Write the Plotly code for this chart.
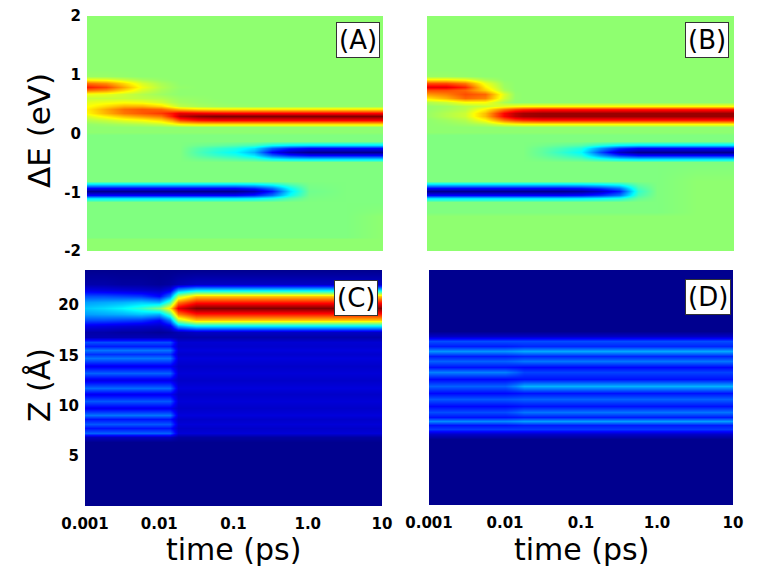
import plotly.graph_objects as go

# time nodes (ps) shared by all four maps
TIME_PS = [0.001, 0.00178, 0.00316, 0.00562, 0.01, 0.0141, 0.0178, 0.0316,
           0.0562, 0.1, 0.178, 0.316, 0.562, 1.0, 3.16, 10.0]

# energy rows (eV) for panels A and B, bottom to top
ENERGY_EV = [-2.0, -1.8, -1.76, -1.4, -1.34, -1.16, -1.10, -1.04, -0.98, -0.92,
             -0.86, -0.80, -0.49, -0.43, -0.37, -0.31, -0.25, -0.19, -0.13, -0.02,
             0.02, 0.11, 0.17, 0.23, 0.29, 0.35, 0.41, 0.47, 0.53, 0.60,
             0.68, 0.74, 0.80, 0.86, 0.92, 0.98, 1.10, 2.0]

PANEL_A = [
    [0.03, 0.03, 0.03, 0.03, 0.03, 0.03, 0.03, 0.03, 0.03, 0.03, 0.03, 0.03, 0.03, 0.03, 0.03, 0.03],
    [0.03, 0.03, 0.03, 0.03, 0.03, 0.03, 0.03, 0.03, 0.03, 0.03, 0.03, 0.03, 0.03, 0.03, 0.03, 0.03],
    [0, 0, 0, 0, 0, 0, 0, 0, 0, 0, 0, 0, 0, 0, 0, 0.03],
    [0, 0, 0, 0, 0, 0, 0, 0, 0, 0, 0, 0, 0, 0, 0, 0.03],
    [0, 0, 0, 0, 0, 0, 0, 0, 0, 0, 0, 0, 0, 0, 0, 0.015],
    [0, 0, 0, 0, 0, 0, 0, 0, 0, 0, 0, 0, 0, 0, 0, 0],
    [-0.3, -0.3, -0.3, -0.3, -0.3, -0.3, -0.3, -0.3, -0.3, -0.3, -0.28, -0.21, -0.09, -0.01, 0, 0],
    [-0.75, -0.75, -0.75, -0.75, -0.75, -0.75, -0.75, -0.75, -0.75, -0.75, -0.69, -0.53, -0.23, -0.02, 0, 0],
    [-1, -1, -1, -1, -1, -1, -1, -1, -1, -1, -0.92, -0.7, -0.3, -0.03, 0, 0],
    [-0.75, -0.75, -0.75, -0.75, -0.75, -0.75, -0.75, -0.75, -0.75, -0.75, -0.69, -0.53, -0.23, -0.02, 0, 0],
    [-0.3, -0.3, -0.3, -0.3, -0.3, -0.3, -0.3, -0.3, -0.3, -0.3, -0.28, -0.21, -0.09, -0.01, 0, 0],
    [0, 0, 0, 0, 0, 0, 0, 0, 0, 0, 0, 0, 0, 0, 0, 0],
    [0, 0, 0, 0, 0, 0, 0, 0, 0, 0, 0, 0, 0, 0, 0, 0],
    [0, 0, 0, 0, 0, 0, 0, -0.03, -0.05, -0.08, -0.12, -0.23, -0.28, -0.3, -0.3, -0.3],
    [0, 0, 0, 0, 0, 0, 0, -0.08, -0.14, -0.19, -0.3, -0.56, -0.69, -0.75, -0.75, -0.75],
    [0, 0, 0, 0, 0, 0, 0, -0.1, -0.18, -0.25, -0.4, -0.75, -0.92, -1, -1, -1],
    [0, 0, 0, 0, 0, 0, 0, -0.08, -0.14, -0.19, -0.3, -0.56, -0.69, -0.75, -0.75, -0.75],
    [0, 0, 0, 0, 0, 0, 0, -0.03, -0.05, -0.08, -0.12, -0.23, -0.28, -0.3, -0.3, -0.3],
    [0, 0, 0, 0, 0, 0, 0, 0, 0, 0, 0, 0, 0, 0, 0, 0],
    [0, 0, 0, 0, 0, 0, 0, 0, 0, 0, 0, 0, 0, 0, 0, 0],
    [0.03, 0.03, 0.03, 0.03, 0.03, 0.03, 0.03, 0.03, 0.03, 0.03, 0.03, 0.03, 0.03, 0.03, 0.03, 0.03],
    [0.03, 0.03, 0.03, 0.03, 0.03, 0.03, 0.03, 0.03, 0.03, 0.03, 0.03, 0.03, 0.03, 0.03, 0.03, 0.03],
    [0.04, 0.06, 0.08, 0.1, 0.14, 0.2, 0.26, 0.3, 0.3, 0.3, 0.3, 0.3, 0.3, 0.3, 0.3, 0.3],
    [0.1, 0.14, 0.2, 0.24, 0.32, 0.45, 0.62, 0.72, 0.75, 0.75, 0.75, 0.75, 0.75, 0.75, 0.75, 0.75],
    [0.18, 0.28, 0.38, 0.45, 0.52, 0.7, 0.88, 0.97, 1, 1, 1, 1, 1, 1, 1, 1],
    [0.26, 0.4, 0.52, 0.58, 0.64, 0.72, 0.8, 0.78, 0.76, 0.75, 0.75, 0.75, 0.75, 0.75, 0.75, 0.75],
    [0.28, 0.42, 0.54, 0.58, 0.55, 0.45, 0.38, 0.32, 0.3, 0.3, 0.3, 0.3, 0.3, 0.3, 0.3, 0.3],
    [0.24, 0.32, 0.4, 0.4, 0.32, 0.2, 0.12, 0.08, 0.06, 0.05, 0.04, 0.04, 0.04, 0.04, 0.04, 0.04],
    [0.2, 0.22, 0.24, 0.22, 0.16, 0.1, 0.07, 0.05, 0.04, 0.03, 0.03, 0.03, 0.03, 0.03, 0.03, 0.03],
    [0.14, 0.14, 0.14, 0.12, 0.1, 0.07, 0.05, 0.04, 0.03, 0.03, 0.03, 0.03, 0.03, 0.03, 0.03, 0.03],
    [0.22, 0.2, 0.15, 0.1, 0.06, 0.04, 0.03, 0.03, 0.03, 0.03, 0.03, 0.03, 0.03, 0.03, 0.03, 0.03],
    [0.53, 0.47, 0.32, 0.17, 0.08, 0.05, 0.03, 0.03, 0.03, 0.03, 0.03, 0.03, 0.03, 0.03, 0.03, 0.03],
    [0.7, 0.62, 0.42, 0.22, 0.1, 0.06, 0.04, 0.03, 0.03, 0.03, 0.03, 0.03, 0.03, 0.03, 0.03, 0.03],
    [0.53, 0.47, 0.32, 0.17, 0.08, 0.05, 0.03, 0.03, 0.03, 0.03, 0.03, 0.03, 0.03, 0.03, 0.03, 0.03],
    [0.21, 0.19, 0.13, 0.07, 0.04, 0.03, 0.03, 0.03, 0.03, 0.03, 0.03, 0.03, 0.03, 0.03, 0.03, 0.03],
    [0.05, 0.05, 0.04, 0.03, 0.03, 0.03, 0.03, 0.03, 0.03, 0.03, 0.03, 0.03, 0.03, 0.03, 0.03, 0.03],
    [0.03, 0.03, 0.03, 0.03, 0.03, 0.03, 0.03, 0.03, 0.03, 0.03, 0.03, 0.03, 0.03, 0.03, 0.03, 0.03],
    [0.03, 0.03, 0.03, 0.03, 0.03, 0.03, 0.03, 0.03, 0.03, 0.03, 0.03, 0.03, 0.03, 0.03, 0.03, 0.03],
]

PANEL_B = [
    [0.03, 0.03, 0.03, 0.03, 0.03, 0.03, 0.03, 0.03, 0.03, 0.03, 0.03, 0.03, 0.03, 0.03, 0.03, 0.03],
    [0.03, 0.03, 0.03, 0.03, 0.03, 0.03, 0.03, 0.03, 0.03, 0.03, 0.03, 0.03, 0.03, 0.03, 0.03, 0.03],
    [0.03, 0.03, 0.03, 0.03, 0.03, 0.03, 0.03, 0.03, 0.03, 0.03, 0.03, 0.03, 0.03, 0.03, 0.03, 0.03],
    [0.03, 0.03, 0.03, 0.03, 0.03, 0.03, 0.03, 0.03, 0.03, 0.03, 0.03, 0.03, 0.03, 0.03, 0.03, 0.03],
    [0, 0, 0, 0, 0, 0, 0, 0, 0, 0, 0, 0, 0, 0, 0.03, 0.03],
    [0, 0, 0, 0, 0, 0, 0, 0, 0, 0, 0, 0, 0, 0, 0.03, 0.03],
    [-0.3, -0.3, -0.3, -0.3, -0.3, -0.3, -0.3, -0.3, -0.3, -0.29, -0.26, -0.21, -0.05, 0, 0.03, 0.03],
    [-0.75, -0.75, -0.75, -0.75, -0.75, -0.75, -0.75, -0.75, -0.75, -0.73, -0.66, -0.53, -0.11, 0, 0.03, 0.03],
    [-1, -1, -1, -1, -1, -1, -1, -1, -1, -0.97, -0.88, -0.7, -0.15, 0, 0.03, 0.03],
    [-0.75, -0.75, -0.75, -0.75, -0.75, -0.75, -0.75, -0.75, -0.75, -0.73, -0.66, -0.53, -0.11, 0, 0.03, 0.03],
    [-0.3, -0.3, -0.3, -0.3, -0.3, -0.3, -0.3, -0.3, -0.3, -0.29, -0.26, -0.21, -0.05, 0, 0.03, 0.03],
    [0, 0, 0, 0, 0, 0, 0, 0, 0, 0, 0, 0, 0, 0, 0.03, 0.03],
    [0, 0, 0, 0, 0, 0, 0, 0, 0, 0, 0, 0, 0, 0, 0, 0],
    [0, 0, 0, 0, 0, 0, 0, -0.02, -0.05, -0.08, -0.18, -0.26, -0.3, -0.3, -0.3, -0.3],
    [0, 0, 0, 0, 0, 0, 0, -0.05, -0.11, -0.19, -0.45, -0.66, -0.75, -0.75, -0.75, -0.75],
    [0, 0, 0, 0, 0, 0, 0, -0.06, -0.15, -0.25, -0.6, -0.88, -1, -1, -1, -1],
    [0, 0, 0, 0, 0, 0, 0, -0.05, -0.11, -0.19, -0.45, -0.66, -0.75, -0.75, -0.75, -0.75],
    [0, 0, 0, 0, 0, 0, 0, -0.02, -0.05, -0.08, -0.18, -0.26, -0.3, -0.3, -0.3, -0.3],
    [0, 0, 0, 0, 0, 0, 0, 0, 0, 0, 0, 0, 0, 0, 0, 0],
    [0, 0, 0, 0, 0, 0, 0, 0, 0, 0, 0, 0, 0, 0, 0, 0],
    [0.03, 0.03, 0.03, 0.03, 0.03, 0.03, 0.03, 0.03, 0.03, 0.03, 0.03, 0.03, 0.03, 0.03, 0.03, 0.03],
    [0.03, 0.03, 0.03, 0.03, 0.03, 0.03, 0.03, 0.03, 0.03, 0.03, 0.03, 0.03, 0.03, 0.03, 0.03, 0.03],
    [0.03, 0.04, 0.06, 0.1, 0.2, 0.23, 0.25, 0.25, 0.25, 0.25, 0.25, 0.25, 0.25, 0.25, 0.25, 0.25],
    [0.03, 0.06, 0.1, 0.25, 0.52, 0.62, 0.66, 0.7, 0.7, 0.7, 0.7, 0.7, 0.7, 0.7, 0.7, 0.7],
    [0.05, 0.1, 0.15, 0.38, 0.75, 0.88, 0.93, 0.95, 0.95, 0.95, 0.95, 0.95, 0.95, 0.95, 0.95, 0.95],
    [0.05, 0.1, 0.15, 0.38, 0.75, 0.88, 0.93, 0.95, 0.95, 0.95, 0.95, 0.95, 0.95, 0.95, 0.95, 0.95],
    [0.04, 0.07, 0.11, 0.27, 0.52, 0.62, 0.66, 0.7, 0.7, 0.7, 0.7, 0.7, 0.7, 0.7, 0.7, 0.7],
    [0.04, 0.06, 0.1, 0.14, 0.2, 0.23, 0.25, 0.25, 0.25, 0.25, 0.25, 0.25, 0.25, 0.25, 0.25, 0.25],
    [0.1, 0.15, 0.25, 0.25, 0.08, 0.03, 0.03, 0.03, 0.03, 0.03, 0.03, 0.03, 0.03, 0.03, 0.03, 0.03],
    [0.3, 0.4, 0.55, 0.5, 0.16, 0.04, 0.03, 0.03, 0.03, 0.03, 0.03, 0.03, 0.03, 0.03, 0.03, 0.03],
    [0.45, 0.5, 0.6, 0.55, 0.18, 0.04, 0.03, 0.03, 0.03, 0.03, 0.03, 0.03, 0.03, 0.03, 0.03, 0.03],
    [0.6, 0.6, 0.55, 0.35, 0.08, 0.03, 0.03, 0.03, 0.03, 0.03, 0.03, 0.03, 0.03, 0.03, 0.03, 0.03],
    [0.8, 0.8, 0.68, 0.28, 0.06, 0.03, 0.03, 0.03, 0.03, 0.03, 0.03, 0.03, 0.03, 0.03, 0.03, 0.03],
    [0.6, 0.6, 0.51, 0.21, 0.05, 0.03, 0.03, 0.03, 0.03, 0.03, 0.03, 0.03, 0.03, 0.03, 0.03, 0.03],
    [0.24, 0.24, 0.2, 0.08, 0.03, 0.03, 0.03, 0.03, 0.03, 0.03, 0.03, 0.03, 0.03, 0.03, 0.03, 0.03],
    [0.05, 0.05, 0.04, 0.03, 0.03, 0.03, 0.03, 0.03, 0.03, 0.03, 0.03, 0.03, 0.03, 0.03, 0.03, 0.03],
    [0.03, 0.03, 0.03, 0.03, 0.03, 0.03, 0.03, 0.03, 0.03, 0.03, 0.03, 0.03, 0.03, 0.03, 0.03, 0.03],
    [0.03, 0.03, 0.03, 0.03, 0.03, 0.03, 0.03, 0.03, 0.03, 0.03, 0.03, 0.03, 0.03, 0.03, 0.03, 0.03],
]

# Z rows (Angstrom) for panel C, bottom to top
Z_C = [0, 6.4, 6.85, 7.3, 7.75, 8.2, 8.65, 9.1, 9.8, 10.5, 11.15, 11.8, 12.5, 13.2,
       13.95, 14.7, 15.1, 15.5, 15.9, 16.3, 16.8, 17.35, 17.95, 18.55, 19.15, 19.75,
       20.35, 20.95, 21.55, 22.15, 23.5]

PANEL_C = [
    [0, 0, 0, 0, 0, 0, 0, 0, 0, 0, 0, 0, 0, 0, 0, 0],
    [0, 0, 0, 0, 0, 0, 0, 0, 0, 0, 0, 0, 0, 0, 0, 0],
    [0.05, 0.05, 0.05, 0.05, 0.05, 0.05, 0.02, 0.02, 0.02, 0.02, 0.02, 0.02, 0.02, 0.02, 0.02, 0.02],
    [0.22, 0.22, 0.22, 0.22, 0.22, 0.22, 0.08, 0.08, 0.08, 0.08, 0.08, 0.08, 0.08, 0.08, 0.08, 0.08],
    [0.14, 0.14, 0.14, 0.14, 0.14, 0.14, 0.065, 0.065, 0.065, 0.065, 0.065, 0.065, 0.065, 0.065, 0.065, 0.065],
    [0.21, 0.21, 0.21, 0.21, 0.21, 0.21, 0.08, 0.08, 0.08, 0.08, 0.08, 0.08, 0.08, 0.08, 0.08, 0.08],
    [0.14, 0.14, 0.14, 0.14, 0.14, 0.14, 0.065, 0.065, 0.065, 0.065, 0.065, 0.065, 0.065, 0.065, 0.065, 0.065],
    [0.24, 0.24, 0.24, 0.24, 0.24, 0.24, 0.085, 0.085, 0.085, 0.085, 0.085, 0.085, 0.085, 0.085, 0.085, 0.085],
    [0.11, 0.11, 0.11, 0.11, 0.11, 0.11, 0.065, 0.065, 0.065, 0.065, 0.065, 0.065, 0.065, 0.065, 0.065, 0.065],
    [0.21, 0.21, 0.21, 0.21, 0.21, 0.21, 0.08, 0.08, 0.08, 0.08, 0.08, 0.08, 0.08, 0.08, 0.08, 0.08],
    [0.11, 0.11, 0.11, 0.11, 0.11, 0.11, 0.065, 0.065, 0.065, 0.065, 0.065, 0.065, 0.065, 0.065, 0.065, 0.065],
    [0.23, 0.23, 0.23, 0.23, 0.23, 0.23, 0.085, 0.085, 0.085, 0.085, 0.085, 0.085, 0.085, 0.085, 0.085, 0.085],
    [0.1, 0.1, 0.1, 0.1, 0.1, 0.1, 0.065, 0.065, 0.065, 0.065, 0.065, 0.065, 0.065, 0.065, 0.065, 0.065],
    [0.22, 0.22, 0.22, 0.22, 0.22, 0.22, 0.08, 0.08, 0.08, 0.08, 0.08, 0.08, 0.08, 0.08, 0.08, 0.08],
    [0.11, 0.11, 0.11, 0.11, 0.11, 0.11, 0.065, 0.065, 0.065, 0.065, 0.065, 0.065, 0.065, 0.065, 0.065, 0.065],
    [0.24, 0.24, 0.24, 0.24, 0.24, 0.24, 0.085, 0.085, 0.085, 0.085, 0.085, 0.085, 0.085, 0.085, 0.085, 0.085],
    [0.17, 0.17, 0.17, 0.17, 0.17, 0.17, 0.07, 0.07, 0.07, 0.07, 0.07, 0.07, 0.07, 0.07, 0.07, 0.07],
    [0.24, 0.24, 0.24, 0.24, 0.24, 0.24, 0.085, 0.085, 0.085, 0.085, 0.085, 0.085, 0.085, 0.085, 0.085, 0.085],
    [0.15, 0.15, 0.15, 0.15, 0.15, 0.15, 0.07, 0.07, 0.07, 0.07, 0.07, 0.07, 0.07, 0.07, 0.07, 0.07],
    [0.2, 0.2, 0.2, 0.2, 0.2, 0.2, 0.075, 0.075, 0.075, 0.075, 0.075, 0.075, 0.075, 0.075, 0.075, 0.075],
    [0.04, 0.04, 0.04, 0.04, 0.04, 0.04, 0.03, 0.03, 0.03, 0.03, 0.03, 0.03, 0.03, 0.03, 0.03, 0.03],
    [0.03, 0.03, 0.02, 0.02, 0.01, 0.02, 0.04, 0.06, 0.06, 0.06, 0.06, 0.06, 0.06, 0.06, 0.06, 0.06],
    [0.1, 0.09, 0.08, 0.07, 0.06, 0.1, 0.28, 0.35, 0.35, 0.35, 0.35, 0.35, 0.35, 0.35, 0.35, 0.35],
    [0.2, 0.2, 0.19, 0.18, 0.13, 0.25, 0.55, 0.68, 0.68, 0.68, 0.68, 0.68, 0.68, 0.68, 0.68, 0.68],
    [0.28, 0.29, 0.3, 0.32, 0.3, 0.45, 0.75, 0.85, 0.85, 0.85, 0.85, 0.85, 0.85, 0.85, 0.85, 0.85],
    [0.32, 0.34, 0.37, 0.42, 0.5, 0.65, 0.9, 1, 1, 1, 1, 1, 1, 1, 1, 1],
    [0.28, 0.29, 0.3, 0.32, 0.3, 0.45, 0.75, 0.85, 0.85, 0.85, 0.85, 0.85, 0.85, 0.85, 0.85, 0.85],
    [0.2, 0.2, 0.19, 0.18, 0.13, 0.25, 0.55, 0.68, 0.68, 0.68, 0.68, 0.68, 0.68, 0.68, 0.68, 0.68],
    [0.1, 0.09, 0.08, 0.07, 0.06, 0.1, 0.28, 0.35, 0.35, 0.35, 0.35, 0.35, 0.35, 0.35, 0.35, 0.35],
    [0.03, 0.03, 0.02, 0.02, 0.01, 0.02, 0.04, 0.06, 0.06, 0.06, 0.06, 0.06, 0.06, 0.06, 0.06, 0.06],
    [0, 0, 0, 0, 0, 0, 0, 0, 0, 0, 0, 0, 0, 0, 0, 0],
]

# Z rows (Angstrom) for panel D, bottom to top
Z_D = [0, 6.6, 7.1, 7.6, 8.0, 8.4, 8.85, 9.3, 9.95, 10.6, 11.25, 11.9, 12.6, 13.3,
       13.85, 14.4, 14.9, 15.4, 15.9, 16.4, 16.9, 17.4, 23.5]

PANEL_D = [
    [0, 0, 0, 0, 0, 0, 0, 0, 0, 0, 0, 0, 0, 0, 0, 0],
    [0, 0, 0, 0, 0, 0, 0, 0, 0, 0, 0, 0, 0, 0, 0, 0],
    [0.06, 0.06, 0.06, 0.06, 0.06, 0.06, 0.06, 0.06, 0.06, 0.06, 0.06, 0.06, 0.06, 0.06, 0.06, 0.06],
    [0.18, 0.18, 0.18, 0.18, 0.18, 0.18, 0.18, 0.18, 0.18, 0.18, 0.18, 0.18, 0.18, 0.18, 0.18, 0.18],
    [0.14, 0.14, 0.14, 0.14, 0.14, 0.145, 0.15, 0.15, 0.15, 0.15, 0.15, 0.15, 0.15, 0.15, 0.15, 0.15],
    [0.26, 0.26, 0.26, 0.26, 0.26, 0.27, 0.28, 0.28, 0.28, 0.28, 0.28, 0.28, 0.28, 0.28, 0.28, 0.28],
    [0.14, 0.14, 0.14, 0.14, 0.14, 0.145, 0.15, 0.15, 0.15, 0.15, 0.15, 0.15, 0.15, 0.15, 0.15, 0.15],
    [0.2, 0.2, 0.2, 0.2, 0.2, 0.22, 0.24, 0.24, 0.24, 0.24, 0.24, 0.24, 0.24, 0.24, 0.24, 0.24],
    [0.13, 0.13, 0.13, 0.13, 0.13, 0.135, 0.14, 0.14, 0.14, 0.14, 0.14, 0.14, 0.14, 0.14, 0.14, 0.14],
    [0.21, 0.21, 0.21, 0.21, 0.21, 0.215, 0.22, 0.22, 0.22, 0.22, 0.22, 0.22, 0.22, 0.22, 0.22, 0.22],
    [0.13, 0.13, 0.13, 0.13, 0.13, 0.135, 0.14, 0.14, 0.14, 0.14, 0.14, 0.14, 0.14, 0.14, 0.14, 0.14],
    [0.22, 0.22, 0.22, 0.22, 0.22, 0.26, 0.3, 0.3, 0.3, 0.3, 0.3, 0.3, 0.3, 0.3, 0.3, 0.3],
    [0.13, 0.13, 0.13, 0.13, 0.13, 0.135, 0.14, 0.14, 0.14, 0.14, 0.14, 0.14, 0.14, 0.14, 0.14, 0.14],
    [0.25, 0.25, 0.25, 0.25, 0.25, 0.22, 0.19, 0.19, 0.19, 0.19, 0.19, 0.19, 0.19, 0.19, 0.19, 0.19],
    [0.14, 0.14, 0.14, 0.14, 0.14, 0.135, 0.13, 0.13, 0.13, 0.13, 0.13, 0.13, 0.13, 0.13, 0.13, 0.13],
    [0.22, 0.22, 0.22, 0.22, 0.22, 0.23, 0.24, 0.24, 0.24, 0.24, 0.24, 0.24, 0.24, 0.24, 0.24, 0.24],
    [0.15, 0.15, 0.15, 0.15, 0.15, 0.155, 0.16, 0.16, 0.16, 0.16, 0.16, 0.16, 0.16, 0.16, 0.16, 0.16],
    [0.27, 0.27, 0.27, 0.27, 0.27, 0.28, 0.29, 0.29, 0.29, 0.29, 0.29, 0.29, 0.29, 0.29, 0.29, 0.29],
    [0.15, 0.15, 0.15, 0.15, 0.15, 0.155, 0.16, 0.16, 0.16, 0.16, 0.16, 0.16, 0.16, 0.16, 0.16, 0.16],
    [0.2, 0.2, 0.2, 0.2, 0.2, 0.2, 0.2, 0.2, 0.2, 0.2, 0.2, 0.2, 0.2, 0.2, 0.2, 0.2],
    [0.06, 0.06, 0.06, 0.06, 0.06, 0.06, 0.06, 0.06, 0.06, 0.06, 0.06, 0.06, 0.06, 0.06, 0.06, 0.06],
    [0, 0, 0, 0, 0, 0, 0, 0, 0, 0, 0, 0, 0, 0, 0, 0],
    [0, 0, 0, 0, 0, 0, 0, 0, 0, 0, 0, 0, 0, 0, 0, 0],
]

TIME_TICKS = [0.001, 0.01, 0.1, 1, 10]
TIME_LABELS = ["0.001", "0.01", "0.1", "1.0", "10"]
ENERGY_TICKS = [-2, -1, 0, 1, 2]
ENERGY_LABELS = ["-2", "-1", "0", "1", "2"]
Z_TICKS = [5, 10, 15, 20]
PANEL_NAMES = ["(A)", "(B)", "(C)", "(D)"]

# matlab style jet
JET = [
    [0.0, "rgb(0,0,143)"],
    [0.125, "rgb(0,0,255)"],
    [0.375, "rgb(0,255,255)"],
    [0.625, "rgb(255,255,0)"],
    [0.875, "rgb(255,0,0)"],
    [1.0, "rgb(128,0,0)"],
]

# the page puts the figure 8px in from the top-left corner of the window
OFF = 8
W, H = 763 - OFF, 573 - OFF


def xdom(left, right):
    return [(left - OFF) / W, (right - OFF) / W]


def ydom(top, bottom):
    return [1 - (bottom - OFF) / H, 1 - (top - OFF) / H]


def px(x, y):
    return (x - OFF) / W, 1 - (y - OFF) / H


fig = go.Figure()

panels = [
    (PANEL_A, ENERGY_EV, -1, 1, "x", "y"),
    (PANEL_B, ENERGY_EV, -1, 1, "x2", "y2"),
    (PANEL_C, Z_C, 0, 1, "x3", "y3"),
    (PANEL_D, Z_D, 0, 1, "x4", "y4"),
]
for z, rows, lo, hi, xa, ya in panels:
    fig.add_trace(go.Heatmap(
        x=TIME_PS, y=rows, z=z,
        colorscale=JET, zmin=lo, zmax=hi,
        zsmooth="best", showscale=False,
        xaxis=xa, yaxis=ya, hoverinfo="skip",
    ))

tick_font = dict(family="DejaVu Sans", size=15, color="black", weight="bold")

base_x = dict(type="log", range=[-3, 1], showgrid=False, zeroline=False,
              showline=False, ticks="", tickvals=TIME_TICKS, ticktext=TIME_LABELS,
              tickfont=tick_font, ticklabelstandoff=7, automargin=False,
              ticklabeloverflow="allow")
base_y = dict(showgrid=False, zeroline=False, showline=False, ticks="",
              tickfont=tick_font, ticklabelstandoff=5, automargin=False,
              ticklabeloverflow="allow")

fig.update_layout(
    template="none",
    width=W, height=H,
    margin=dict(l=0, r=0, t=0, b=0, pad=0),
    paper_bgcolor="white", plot_bgcolor="white",
    showlegend=False,
    xaxis=dict(base_x, domain=xdom(87, 383), anchor="y", showticklabels=False),
    xaxis2=dict(base_x, domain=xdom(427, 734), anchor="y2", showticklabels=False),
    xaxis3=dict(base_x, domain=xdom(85, 382), anchor="y3"),
    xaxis4=dict(base_x, domain=xdom(429, 733), anchor="y4"),
    yaxis=dict(base_y, domain=ydom(16, 251), anchor="x", range=[-2, 2],
               tickvals=ENERGY_TICKS, ticktext=ENERGY_LABELS),
    yaxis2=dict(base_y, domain=ydom(16, 251), anchor="x2", range=[-2, 2],
                showticklabels=False),
    yaxis3=dict(base_y, domain=ydom(270, 506), anchor="x3", range=[0, 23.5],
                tickvals=Z_TICKS),
    yaxis4=dict(base_y, domain=ydom(270, 505), anchor="x4", range=[0, 23.5],
                showticklabels=False),
)

# axis titles
titles = [
    ("\u0394E (eV)", 39, 130, -90, 31),
    ("Z (\u00c5)", 40, 385, -90, 30),
    ("time (ps)", 233, 549, 0, 30),
    ("time (ps)", 581, 549, 0, 30),
]
for text, tx, ty, ang, size in titles:
    ax_, ay_ = px(tx, ty)
    fig.add_annotation(text=text, x=ax_, y=ay_, xref="paper", yref="paper",
                       showarrow=False, textangle=ang,
                       font=dict(family="DejaVu Sans", size=size, color="black"),
                       xanchor="center", yanchor="middle")

# panel letters in boxes
label_pos = [(358, 40), (707, 40), (356, 298), (708, 297)]
for name, (lx, ly) in zip(PANEL_NAMES, label_pos):
    ax_, ay_ = px(lx, ly)
    fig.add_annotation(text=name, x=ax_, y=ay_, xref="paper", yref="paper",
                       showarrow=False, xanchor="center", yanchor="middle",
                       font=dict(family="DejaVu Sans", size=26, color="black"),
                       bgcolor="white", bordercolor="#333333", borderwidth=1, borderpad=2)

fig.write_html("out.html")
